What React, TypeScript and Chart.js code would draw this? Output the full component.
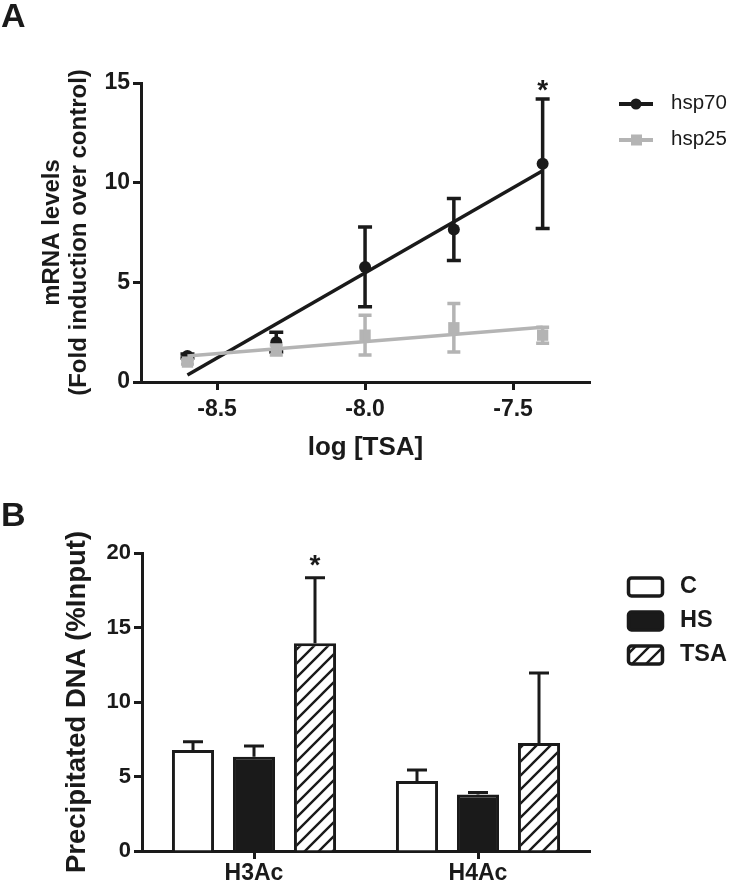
import React, { useEffect, useRef } from "react";
import { Chart, registerables } from "chart.js";

Chart.register(...registerables);

const FONT = "'Liberation Sans', Arial, Helvetica, sans-serif";
const INK = "#1a1a1a";
const GREY = "#b4b4b4";

// ---------- Panel A data ----------
const logTSA = [-8.6, -8.3, -8.0, -7.7, -7.4];
const hsp70Mean = [1.3, 2.0, 5.77, 7.65, 10.95];
const hsp70Err = [0.1, 0.5, 2.0, 1.55, 3.25];
const hsp25Mean = [1.0, 1.6, 2.35, 2.72, 2.35];
const hsp25Err = [0.1, 0.25, 1.0, 1.22, 0.4];
const fitX = [-8.6, -7.4];
const hsp70Fit = [0.35, 10.6];
const hsp25Fit = [1.3, 2.75];
const hsp70Sig = [false, false, false, false, true];
const xTicksA = [-8.5, -8.0, -7.5];
const yTicksA = [0, 5, 10, 15];
const seriesA = ["hsp70", "hsp25"];

// ---------- Panel B data ----------
const marks = ["H3Ac", "H4Ac"];
const groups = ["C", "HS", "TSA"];
const cMean = [6.78, 4.7];
const cErr = [0.55, 0.74];
const hsMean = [6.33, 3.8];
const hsErr = [0.72, 0.12];
const tsaMean = [13.94, 7.25];
const tsaErr = [4.4, 4.7];
const tsaSig = [true, false];
const yTicksB = [0, 5, 10, 15, 20];

function makeHatch(): CanvasPattern | string {
  const s = 14;
  const c = document.createElement("canvas");
  c.width = s;
  c.height = s;
  const g = c.getContext("2d");
  if (!g) return "#fff";
  g.fillStyle = "#fff";
  g.fillRect(0, 0, s, s);
  g.strokeStyle = INK;
  g.lineWidth = 2.4;
  g.beginPath();
  g.moveTo(-2, s + 2);
  g.lineTo(s + 2, -2);
  g.moveTo(-2, 2);
  g.lineTo(2, -2);
  g.moveTo(s - 2, s + 2);
  g.lineTo(s + 2, s - 2);
  g.stroke();
  return g.createPattern(c, "repeat") || "#fff";
}

const errorBarPlugin = {
  id: "errbars",
  afterDatasetDraw(chart: any, args: any) {
    const ds: any = chart.data.datasets[args.index];
    if (!ds.errors) return;
    const ctx = chart.ctx;
    const ys = chart.scales.y;
    ctx.save();
    ctx.strokeStyle = ds.errColor;
    ctx.lineWidth = ds.errWidth;
    ctx.lineCap = "butt";
    args.meta.data.forEach((el: any, i: number) => {
      const raw = ds.data[i];
      const v = typeof raw === "number" ? raw : raw.y;
      const e = ds.errors[i];
      const x = el.x;
      const yTop = ys.getPixelForValue(v + e);
      const yBot = ds.upperOnly ? ys.getPixelForValue(v) : ys.getPixelForValue(v - e);
      const h = ds.errCap / 2;
      ctx.beginPath();
      ctx.moveTo(x, yTop);
      ctx.lineTo(x, yBot);
      ctx.moveTo(x - h, yTop);
      ctx.lineTo(x + h, yTop);
      if (!ds.upperOnly) {
        ctx.moveTo(x - h, yBot);
        ctx.lineTo(x + h, yBot);
      }
      ctx.stroke();
      if (ds.sig && ds.sig[i]) {
        ctx.fillStyle = INK;
        ctx.font = `bold 28px ${FONT}`;
        ctx.textAlign = "center";
        ctx.textBaseline = "alphabetic";
        ctx.fillText("*", x, yTop + ds.sigOffset);
      }
    });
    ctx.restore();
  },
};

const legendAPlugin = {
  id: "legendA",
  afterDraw(chart: any) {
    const ctx = chart.ctx;
    ctx.save();
    const rows = [
      { y: 104, color: INK, shape: "circle" },
      { y: 140, color: GREY, shape: "rect" },
    ];
    rows.forEach((r, i) => {
      ctx.strokeStyle = r.color;
      ctx.fillStyle = r.color;
      ctx.lineWidth = 4;
      ctx.beginPath();
      ctx.moveTo(619, r.y);
      ctx.lineTo(653, r.y);
      ctx.stroke();
      if (r.shape === "circle") {
        ctx.beginPath();
        ctx.arc(636, r.y, 5.5, 0, Math.PI * 2);
        ctx.fill();
      } else {
        ctx.fillRect(631, r.y - 5.5, 11, 11);
      }
      ctx.fillStyle = INK;
      ctx.font = `20.5px ${FONT}`;
      ctx.textAlign = "left";
      ctx.textBaseline = "middle";
      ctx.fillText(seriesA[i], 671, r.y - 1);
    });
    ctx.restore();
  },
};

function makeLegendBPlugin(hatch: CanvasPattern | string) {
  return {
    id: "legendB",
    afterDraw(chart: any) {
      const ctx = chart.ctx;
      ctx.save();
      const fills = ["#ffffff", INK, hatch];
      const ys = [117, 151, 185];
      groups.forEach((g, i) => {
        const y = ys[i];
        ctx.beginPath();
        if (ctx.roundRect) ctx.roundRect(628.5, y - 9, 34, 18, 3);
        else ctx.rect(628.5, y - 9, 34, 18);
        ctx.fillStyle = fills[i];
        ctx.fill();
        ctx.lineWidth = 3.5;
        ctx.strokeStyle = INK;
        ctx.stroke();
        ctx.fillStyle = INK;
        ctx.font = `bold 23.5px ${FONT}`;
        ctx.textAlign = "left";
        ctx.textBaseline = "middle";
        ctx.fillText(g, 680, y);
      });
      ctx.restore();
    },
  };
}

function PanelA() {
  const ref = useRef<HTMLCanvasElement | null>(null);
  useEffect(() => {
    if (!ref.current) return;
    const pts = (xs: number[], ys: number[]) => xs.map((x, i) => ({ x, y: ys[i] }));
    const chart = new Chart(ref.current, {
      type: "scatter",
      data: {
        datasets: [
          {
            label: "hsp25",
            data: pts(logTSA, hsp25Mean),
            pointStyle: "rect",
            pointRadius: 8,
            backgroundColor: GREY,
            borderColor: GREY,
            borderWidth: 0,
            showLine: false,
            errors: hsp25Err,
            errColor: GREY,
            errWidth: 3.5,
            errCap: 13,
          } as any,
          {
            label: "hsp25 fit",
            type: "line",
            data: pts(fitX, hsp25Fit),
            borderColor: GREY,
            borderWidth: 3.5,
            pointRadius: 0,
            showLine: true,
          } as any,
          {
            label: "hsp70",
            data: pts(logTSA, hsp70Mean),
            pointStyle: "circle",
            pointRadius: 6,
            backgroundColor: INK,
            borderColor: INK,
            borderWidth: 0,
            showLine: false,
            errors: hsp70Err,
            errColor: INK,
            errWidth: 3.5,
            errCap: 14,
            sig: hsp70Sig,
            sigOffset: 0,
          } as any,
          {
            label: "hsp70 fit",
            type: "line",
            data: pts(fitX, hsp70Fit),
            borderColor: INK,
            borderWidth: 3.5,
            pointRadius: 0,
            showLine: true,
          } as any,
        ],
      },
      options: {
        responsive: false,
        animation: false,
        events: [],
        layout: { padding: { top: 83, right: 146, left: 0, bottom: 0 } },
        plugins: { legend: { display: false }, tooltip: { enabled: false } },
        scales: {
          x: {
            type: "linear",
            min: -8.757,
            max: -7.24,
            afterBuildTicks: (s: any) => {
              s.ticks = xTicksA.map((v) => ({ value: v }));
            },
            afterFit: (s: any) => {
              s.height = 88;
            },
            ticks: {
              callback: (v: any) => Number(v).toFixed(1),
              font: { family: FONT, size: 23, weight: "bold" },
              color: INK,
              padding: 6,
              maxRotation: 0,
            },
            grid: {
              drawOnChartArea: false,
              drawTicks: true,
              tickLength: 8,
              tickWidth: 3,
              tickColor: INK,
            },
            border: { display: true, color: INK, width: 3 },
            title: {
              display: true,
              text: "log [TSA]",
              color: INK,
              font: { family: FONT, size: 26, weight: "bold", lineHeight: 1 },
              padding: { top: 0, bottom: 9 },
            },
          },
          y: {
            type: "linear",
            min: 0,
            max: 15,
            afterBuildTicks: (s: any) => {
              s.ticks = yTicksA.map((v) => ({ value: v }));
            },
            afterFit: (s: any) => {
              s.width = 141;
            },
            ticks: {
              font: { family: FONT, size: 23, weight: "bold" },
              color: INK,
              padding: 3,
            },
            grid: {
              drawOnChartArea: false,
              drawTicks: true,
              tickLength: 8,
              tickWidth: 3,
              tickColor: INK,
            },
            border: { display: true, color: INK, width: 3 },
            title: {
              display: true,
              text: ["mRNA levels", "(Fold induction over control)"],
              color: INK,
              font: { family: FONT, size: 24, weight: "bold", lineHeight: 1.12 },
              padding: { top: 39, bottom: 0 },
            },
          },
        },
      } as any,
      plugins: [errorBarPlugin, legendAPlugin],
    });
    return () => chart.destroy();
  }, []);
  return (
    <canvas
      ref={ref}
      width={736}
      height={470}
      style={{ position: "absolute", left: 0, top: 0, width: 736, height: 470 }}
    />
  );
}

function PanelB() {
  const ref = useRef<HTMLCanvasElement | null>(null);
  useEffect(() => {
    if (!ref.current) return;
    const hatch = makeHatch();
    const common = {
      borderColor: INK,
      borderWidth: 3,
      errColor: INK,
      errWidth: 3,
      errCap: 20,
      upperOnly: true,
      categoryPercentage: 0.817,
      barPercentage: 0.69,
    };
    const chart = new Chart(ref.current, {
      type: "bar",
      data: {
        labels: marks,
        datasets: [
          { label: groups[0], data: cMean, backgroundColor: "#ffffff", errors: cErr, ...common } as any,
          { label: groups[1], data: hsMean, backgroundColor: INK, errors: hsErr, ...common } as any,
          {
            label: groups[2],
            data: tsaMean,
            backgroundColor: hatch,
            errors: tsaErr,
            sig: tsaSig,
            sigOffset: -4,
            ...common,
          } as any,
        ],
      },
      options: {
        responsive: false,
        animation: false,
        events: [],
        layout: { padding: { top: 83, right: 146, left: 0, bottom: 0 } },
        plugins: { legend: { display: false }, tooltip: { enabled: false } },
        scales: {
          x: {
            type: "category",
            afterFit: (s: any) => {
              s.height = 33;
            },
            ticks: {
              font: { family: FONT, size: 23, weight: "bold" },
              color: INK,
              padding: 1,
              maxRotation: 0,
            },
            grid: {
              offset: false,
              drawOnChartArea: false,
              drawTicks: true,
              tickLength: 8,
              tickWidth: 3,
              tickColor: INK,
            },
            border: { display: true, color: INK, width: 3 },
          },
          y: {
            type: "linear",
            min: 0,
            max: 20,
            afterBuildTicks: (s: any) => {
              s.ticks = yTicksB.map((v) => ({ value: v }));
            },
            afterFit: (s: any) => {
              s.width = 142;
            },
            ticks: {
              font: { family: FONT, size: 22, weight: "bold" },
              color: INK,
              padding: 3,
            },
            grid: {
              drawOnChartArea: false,
              drawTicks: true,
              tickLength: 8,
              tickWidth: 3,
              tickColor: INK,
            },
            border: { display: true, color: INK, width: 3 },
            title: {
              display: true,
              text: "Precipitated DNA (%Input)",
              color: INK,
              font: { family: FONT, size: 27.5, weight: "bold", lineHeight: 1.2 },
              padding: { top: 61, bottom: 0 },
            },
          },
        },
      } as any,
      plugins: [errorBarPlugin, makeLegendBPlugin(hatch)],
    });
    return () => chart.destroy();
  }, []);
  return (
    <canvas
      ref={ref}
      width={736}
      height={414}
      style={{ position: "absolute", left: 0, top: 470, width: 736, height: 414 }}
    />
  );
}

const panelLabel: React.CSSProperties = {
  position: "absolute",
  left: 1,
  fontFamily: FONT,
  fontWeight: "bold",
  fontSize: 34,
  lineHeight: "34px",
  color: INK,
};

export default function App() {
  return (
    <div style={{ position: "absolute", left: 0, top: 0, width: 736, height: 884, background: "#fff", overflow: "hidden" }}>
      <PanelA />
      <PanelB />
      <div style={{ ...panelLabel, top: -2 }}>A</div>
      <div style={{ ...panelLabel, top: 497 }}>B</div>
    </div>
  );
}
